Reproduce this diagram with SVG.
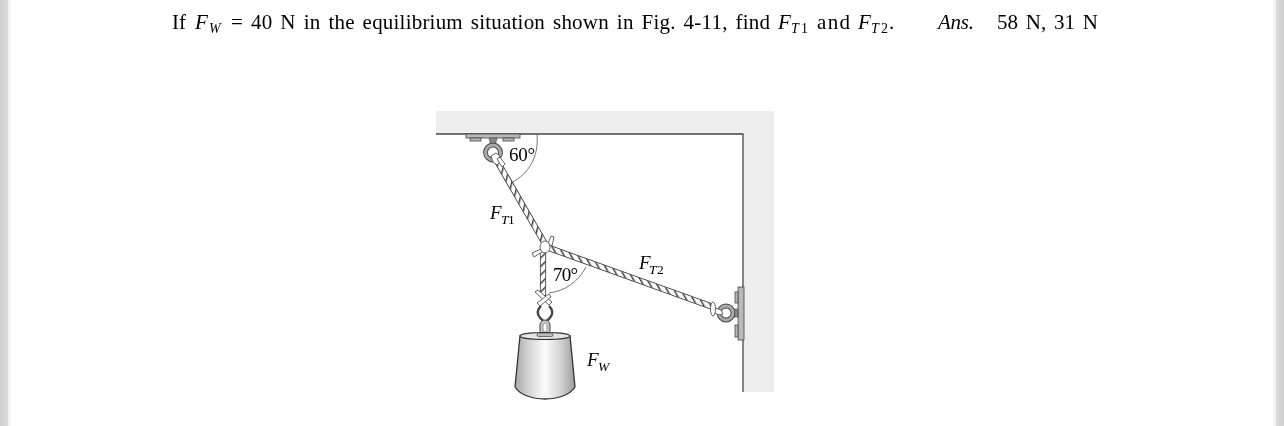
<svg xmlns="http://www.w3.org/2000/svg" width="1284" height="426" viewBox="0 0 1284 426">
<style>
text{font-family:"Liberation Serif","Times New Roman",serif;fill:#000}
.t{font-size:21px}.i{font-style:italic}.s{font-size:14px}
.f{font-size:19px}.fs{font-size:13.500px}
.rope{fill:none}
.ol{stroke:#333;stroke-width:6.200}.in{stroke:#fff;stroke-width:4.600}
.fit{fill:#b9b9b9;stroke:#444;stroke-width:.8}
.arc{fill:none;stroke:#666;stroke-width:.9}
.knot{fill:#fff;stroke:#555;stroke-width:.9}
.ringo{fill:none;stroke:#444;stroke-width:4.800}
.ringi{fill:none;stroke:#aaa;stroke-width:3}
</style>
<defs>
<filter id="soft" x="-5%" y="-5%" width="110%" height="110%"><feGaussianBlur stdDeviation="0.4"/></filter>
<filter id="softer" x="-2%" y="-20%" width="104%" height="140%"><feGaussianBlur stdDeviation="0.25"/></filter>
<linearGradient id="sl"><stop offset="0" stop-color="#cfcfcf"/><stop offset="1" stop-color="#dadada"/></linearGradient>
<linearGradient id="sr"><stop offset="0" stop-color="#dadada"/><stop offset="1" stop-color="#cfcfcf"/></linearGradient>
<linearGradient id="wg"><stop offset="0" stop-color="#a8a8a8"/><stop offset=".25" stop-color="#d8d8d8"/><stop offset=".5" stop-color="#fbfbfb"/><stop offset=".75" stop-color="#d5d5d5"/><stop offset="1" stop-color="#9c9c9c"/></linearGradient>
<pattern id="r1" width="6" height="6" patternUnits="userSpaceOnUse" patternTransform="rotate(14)"><line x1="0.7" y1="0" x2="0.7" y2="6" stroke="#333" stroke-width="1.400"/></pattern>
<pattern id="r2" width="6" height="6" patternUnits="userSpaceOnUse" patternTransform="rotate(-30)"><line x1="0.7" y1="0" x2="0.7" y2="6" stroke="#333" stroke-width="1.400"/></pattern>
<pattern id="r3" width="6" height="6" patternUnits="userSpaceOnUse" patternTransform="rotate(45)"><line x1="0.7" y1="0" x2="0.7" y2="6" stroke="#333" stroke-width="1.400"/></pattern>
</defs>
<rect width="1284" height="426" fill="#fff"/>
<rect x="0" y="0" width="8" height="426" fill="url(#sl)"/><rect x="8" y="0" width="3" height="426" fill="#f3f3f3"/>
<rect x="1276" y="0" width="8" height="426" fill="url(#sr)"/><rect x="1273" y="0" width="3" height="426" fill="#f3f3f3"/>

<g id="question" filter="url(#softer)">
<text class="t" x="172" y="29">If</text>
<text class="t i" x="195" y="29">F</text><text class="s i" x="209" y="33">W</text>
<text class="t" x="231" y="29" word-spacing="2.500" textLength="539" lengthAdjust="spacing">= 40 N in the equilibrium situation shown in Fig. 4-11, find</text>
<text class="t i" x="778" y="29">F</text><text class="s i" x="791" y="33">T</text><text class="s" x="801" y="33">1</text>
<text class="t" x="817" y="29" textLength="33" lengthAdjust="spacing">and</text>
<text class="t i" x="858" y="29">F</text><text class="s i" x="871" y="33">T</text><text class="s" x="881" y="33">2</text><text class="t" x="889" y="29">.</text>
<text class="t i" x="938" y="29" textLength="36" lengthAdjust="spacing">Ans.</text>
<text class="t" x="997" y="29" word-spacing="2.500" textLength="101" lengthAdjust="spacing">58 N, 31 N</text>
</g>

<g id="figure" filter="url(#soft)">
<g id="structure">
<path d="M436 111H774V392H744V134H436Z" fill="#eeeeee"/>
<path d="M436 134H743V392" fill="none" stroke="#444" stroke-width="1.300"/>
</g>

<g id="angles">
<path class="arc" d="M537 135C539 156 529 174 511 183"/>
<path class="arc" d="M549 293C565 291 578 282 586 267"/>
</g>

<g id="connectors">
<g id="rope-ft1"><path class="rope ol" d="M497 161L545 244"/><path class="rope in" d="M497 161L545 244"/><path class="rope" stroke="url(#r1)" stroke-width="5" d="M497 161L545 244"/></g>
<g id="rope-ft2"><path class="rope ol" d="M549 248L713 307"/><path class="rope in" d="M549 248L713 307"/><path class="rope" stroke="url(#r2)" stroke-width="5" d="M549 248L713 307"/></g>
<g id="rope-fw"><path class="rope ol" d="M543 250V296"/><path class="rope in" d="M543 250V296"/><path class="rope" stroke="url(#r3)" stroke-width="5" d="M543 250V296"/></g>
</g>

<g id="ceiling-anchor">
<rect class="fit" x="466" y="134" width="54" height="4"/>
<rect class="fit" x="470" y="138" width="11" height="3"/>
<rect class="fit" x="503" y="138" width="11" height="3"/>
<path d="M489 138H497L495.500 144H490.500Z" fill="#888" stroke="#444" stroke-width=".6"/>
<circle class="ringo" cx="493" cy="152.500" r="7.500"/><circle class="ringi" cx="493" cy="152.500" r="7.500"/>
<path class="knot" d="M491 156l5-3 4 3-2 3 2 3-3 3-4-3-1-3Z"/>
<path class="knot" d="M497 159l3-2 5 7-3 3Z"/>
</g>

<g id="knot-centre">
<path class="knot" d="M532 253l9-4 1 3-8 5Z"/>
<path class="knot" d="M548 244l3-8 3 1-2 9Z"/>
<ellipse class="knot" cx="545" cy="247" rx="5" ry="6"/>
</g>

<g id="wall-anchor">
<rect class="fit" x="738" y="287" width="6" height="53"/>
<rect class="fit" x="735" y="292" width="3" height="11"/>
<rect class="fit" x="735" y="325" width="3" height="12"/>
<rect x="732" y="309" width="6" height="8" fill="#888" stroke="#444" stroke-width=".6"/>
<circle class="ringo" cx="726" cy="313" r="7"/><circle class="ringi" cx="726" cy="313" r="7"/>
<path class="knot" d="M713 307l8 3 2 4-3 1-9-3Z"/>
<ellipse class="knot" cx="713" cy="309" rx="2.500" ry="7"/>
</g>

<g id="weight">
<path class="knot" d="M535 292l3-2 14 12-3 3Z"/>
<path class="knot" d="M537 303l12-9 2 3-11 9Z"/>
<path d="M541 306Q533 314 545 322Q557 314 549 306" fill="#fff" stroke="#444" stroke-width="2.400"/>
<rect x="540" y="320" width="10" height="15" rx="5" fill="#ccc" stroke="#444" stroke-width="1"/>
<rect x="543" y="323" width="4" height="9" rx="2" fill="#fff" stroke="#555" stroke-width=".6"/>
<path d="M520 336L515 387C525 403 565 403 575 387L570 336Z" fill="url(#wg)" stroke="#333" stroke-width="1.300"/>
<ellipse cx="545" cy="336" rx="25" ry="3.500" fill="#e4e4e4" stroke="#333" stroke-width="1.100"/>
<rect x="537" y="333" width="16" height="3.500" rx="1.500" fill="#bbb" stroke="#444" stroke-width=".7"/>
</g>
</g>

<g id="labels" filter="url(#softer)">
<text class="f" x="509" y="161" textLength="26">60°</text>
<text class="f" x="553" y="281" textLength="25">70°</text>
<text class="f i" x="490" y="219">F</text><text class="fs i" x="501" y="224">T</text><text class="fs" x="508" y="224">1</text>
<text class="f i" x="639" y="269">F</text><text class="fs i" x="649" y="274">T</text><text class="fs" x="657" y="274">2</text>
<text class="f i" x="587" y="366">F</text><text class="fs i" x="598" y="371">W</text>
</g>
</svg>
